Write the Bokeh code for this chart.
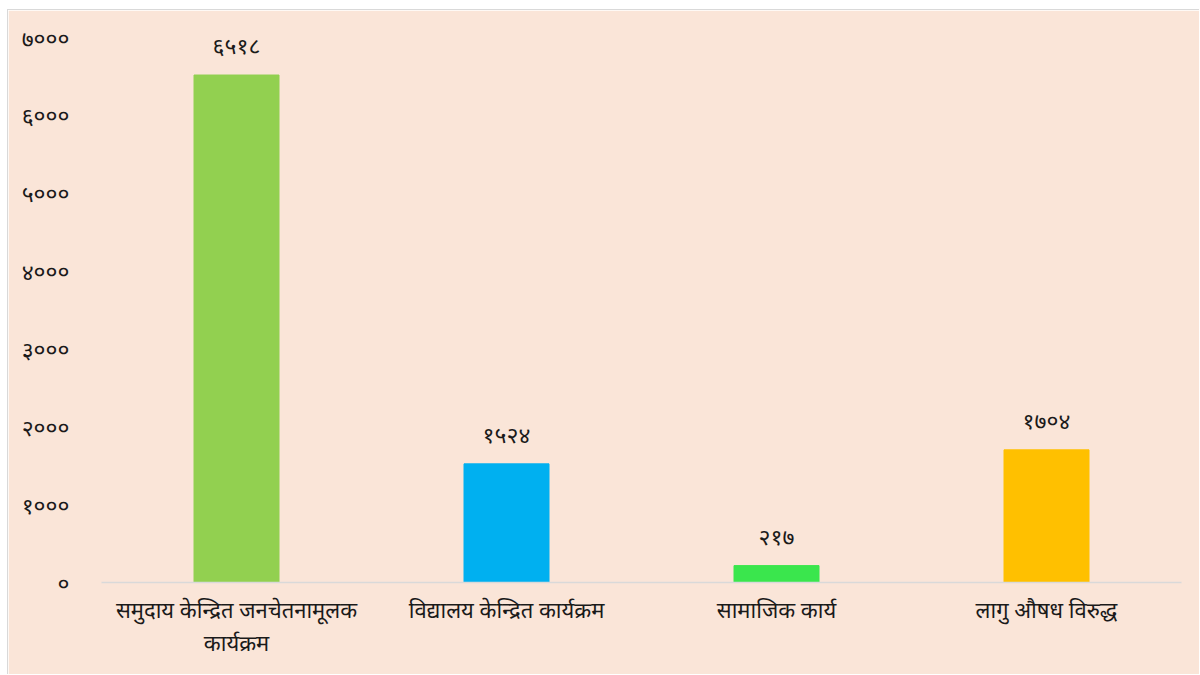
from bokeh.plotting import figure
from bokeh.models import ColumnDataSource, Range1d, FactorRange, FixedTicker
from bokeh.core.properties import value
from bokeh.embed import file_html
from bokeh.resources import INLINE

categories = ["समुदाय केन्द्रित जनचेतनामूलक\nकार्यक्रम", "विद्यालय केन्द्रित कार्यक्रम", "सामाजिक कार्य", "लागु औषध विरुद्ध"]
values = [6518, 1524, 217, 1704]
value_labels = ["६५१८", "१५२४", "२१७", "१७०४"]
colors = ["#92D050", "#00B0F0", "#3AE64D", "#FFC000"]
y_ticks = [0, 1000, 2000, 3000, 4000, 5000, 6000, 7000]
y_tick_labels = ["०", "१०००", "२०००", "३०००", "४०००", "५०००", "६०००", "७०००"]

BG = "#FAE5D8"
FONT = "Noto Sans"

src = ColumnDataSource(dict(cat=categories, val=values, lab=value_labels, col=colors))

p = figure(width=1192, height=665, x_range=FactorRange(*categories, range_padding=0),
           y_range=Range1d(0, 7000), output_backend="svg", toolbar_location=None,
           min_border_left=93, min_border_right=19, min_border_top=27, min_border_bottom=93)
p.x_range.factor_padding = 0
p.background_fill_color = BG
p.border_fill_color = BG
p.outline_line_color = BG
p.outline_line_width = 2
p.styles = {"border-left": "1px solid #D9D9D9", "border-top": "1px solid #D9D9D9",
            "margin-left": "7px", "margin-top": "9px"}

p.vbar(x="cat", top="val", width=85/270, color="col", source=src)
p.text(x="cat", y="val", text="lab", source=src, text_align="center", text_baseline="middle",
       y_offset=-30, text_font=value(FONT), text_font_size="23px", text_color="#1a1a1a")

p.xgrid.visible = False
p.ygrid.visible = False

p.yaxis.ticker = FixedTicker(ticks=y_ticks)
p.yaxis.major_label_overrides = {t: l for t, l in zip(y_ticks, y_tick_labels)}
p.yaxis.axis_line_color = None
p.yaxis.major_tick_line_color = None
p.yaxis.minor_tick_line_color = None
p.yaxis.major_label_standoff = 26
p.yaxis.major_label_text_font = FONT
p.yaxis.major_label_text_font_size = "23px"
p.yaxis.major_label_text_color = "#1a1a1a"

p.xaxis.axis_line_color = "#D9D9D9"
p.xaxis.axis_line_width = 1.5
p.xaxis.major_tick_line_color = None
p.xaxis.minor_tick_line_color = None
p.xaxis.major_label_standoff = 5
p.xaxis.major_label_text_font = FONT
p.xaxis.major_label_text_font_size = "22px"
p.xaxis.major_label_text_line_height = 1.1
p.xaxis.major_label_text_color = "#1a1a1a"
p.xaxis.major_label_orientation = "horizontal"

open("out.html", "w").write(file_html(p, INLINE))
